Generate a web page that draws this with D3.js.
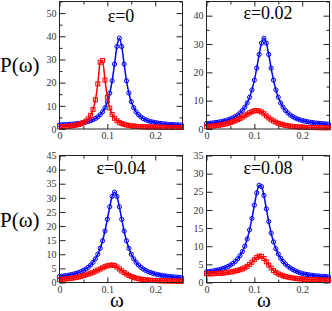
<!DOCTYPE html>
<html lang="en">
<head>
<meta charset="UTF-8">
<title>P(omega) panels</title>
<style>
    body { margin: 0; background: #fff; }
    svg { display: block; }
    .tick line { stroke: #222; stroke-width: 1px; }
    .frame { fill: none; stroke: #222; stroke-width: 1px; }
</style>
</head>
<body>
<div id="chart"></div>
<script src="https://cdnjs.cloudflare.com/ajax/libs/d3/7.8.5/d3.min.js"></script>
<script>
// omega grid shared by every series
var omega = [0,0.005,0.01,0.015,0.02,0.025,0.03,0.035,0.04,0.045,
    0.05,0.055,0.06,0.065,0.07,0.075,0.08,0.085,0.09,0.095,
    0.1,0.105,0.11,0.115,0.12,0.125,0.13,0.135,0.14,0.145,
    0.15,0.155,0.16,0.165,0.17,0.175,0.18,0.185,0.19,0.195,
    0.2,0.205,0.21,0.215,0.22,0.225,0.23,0.235,0.24,0.245,
    0.25,0.255];

var blue0 = [1.78,1.82,1.88,1.94,2.01,2.09,2.19,2.29,2.42,2.57,
    2.76,2.98,3.24,3.58,4.0,4.53,5.23,6.16,7.43,9.2,
    11.76,15.46,20.8,28.0,35.6,39.2,35.6,28.0,20.8,15.5,
    11.8,9.2,7.4,6.2,5.2,4.5,4.0,3.6,3.2,3.0,
    2.8,2.6,2.4,2.3,2.2,2.1,2.0,1.9,1.9,1.8,
    1.8,1.7];
var red0 = [0.95,1.0,1.07,1.14,1.24,1.36,1.51,1.70,1.95,2.28,
    2.74,3.4,4.38,5.9,8.38,12.6,19.5,28.8,29.6,21.1,
    13.7,9.06,6.3,4.63,3.57,2.86,2.36,2.0,1.74,1.54,
    1.38,1.26,1.16,1.08,1.01,0.96,0.91,0.88,0.85,0.82,
    0.8,0.78,0.76,0.74,0.72,0.71,0.7,0.69,0.68,0.67,
    0.66,0.65];

var blue02 = [1.92,2.0,2.09,2.19,2.31,2.44,2.6,2.78,3.0,3.25,
    3.56,3.93,4.38,4.94,5.65,6.55,7.7,9.2,11.2,13.8,
    17.25,21.5,26.3,30.3,32,30.3,26.3,21.5,17.25,13.8,
    11.2,9.2,7.7,6.55,5.65,4.94,4.38,3.93,3.56,3.25,
    3.0,2.78,2.6,2.44,2.31,2.19,2.09,2.0,1.92,1.85,
    1.79,1.73];
var red02 = [0.8,0.9,1.0,1.1,1.2,1.3,1.45,1.6,1.8,2.0,
    2.3,2.6,2.9,3.3,3.7,4.2,4.7,5.2,5.7,6.1,
    6.4,6.5,6.4,6.0,5.4,4.6,3.9,3.3,2.8,2.4,
    2.0,1.75,1.5,1.3,1.15,1.0,0.9,0.8,0.75,0.7,
    0.65,0.6,0.58,0.55,0.53,0.5,0.5,0.48,0.47,0.46,
    0.45,0.45];

var blue04 = [2.13,2.24,2.35,2.48,2.63,2.81,3.01,3.25,3.54,3.88,
    4.29,4.79,5.41,6.18,7.16,8.4,10.0,12.1,14.8,18.25,
    22.4,26.85,30.5,32,30.5,26.85,22.4,18.25,14.8,12.1,
    10.0,8.4,7.16,6.18,5.41,4.79,4.29,3.88,3.54,3.25,
    3.01,2.81,2.63,2.48,2.35,2.24,2.13,2.04,1.96,1.89,
    1.82,1.76];
var red04 = [1.0,1.1,1.2,1.3,1.4,1.5,1.65,1.8,2.0,2.2,
    2.45,2.7,3.0,3.3,3.6,4.0,4.4,4.8,5.2,5.6,
    5.9,6.1,6.2,6.0,5.5,4.8,4.1,3.5,3.0,2.5,
    2.1,1.8,1.55,1.35,1.2,1.05,0.95,0.85,0.8,0.75,
    0.7,0.65,0.62,0.6,0.58,0.56,0.55,0.53,0.52,0.51,
    0.5,0.5];

var blue08 = [2.93,3.01,3.11,3.22,3.35,3.5,3.68,3.89,4.13,4.43,
    4.8,5.24,5.79,6.5,7.39,8.53,10.0,12.0,14.5,17.65,
    21.3,24.7,26.8,26.4,24.0,20.3,16.8,13.6,11.2,9.3,
    7.84,6.69,5.78,5.07,4.47,4.0,3.59,3.25,2.95,2.7,
    2.47,2.32,2.2,2.09,2.0,1.91,1.84,1.77,1.72,1.67,
    1.62,1.58];
var red08 = [2.4,2.4,2.4,2.45,2.5,2.5,2.55,2.6,2.7,2.8,
    2.9,3.0,3.15,3.3,3.5,3.75,4.05,4.45,5.0,5.6,
    6.3,6.9,7.3,7.2,6.6,5.7,4.8,4.0,3.3,2.8,
    2.4,2.1,1.85,1.65,1.5,1.35,1.25,1.15,1.05,1.0,
    0.95,0.9,0.85,0.8,0.78,0.75,0.72,0.7,0.68,0.66,
    0.64,0.62];

var titles = ["ε=0", "ε=0.02", "ε=0.04", "ε=0.08"];
var yMax = [55, 45, 45, 35];
var yTicks = [[0,10,20,30,40,50], [0,10,20,30,40], [0,5,10,15,20,25,30,35,40,45], [0,5,10,15,20,25,30,35]];
var yMinor = [[5,15,25,35,45,55], [5,15,25,35,45], [], []];
var xTicks = [0, 0.1, 0.2];
var xMinor = [0.05, 0.15];

var blueSeries = [blue0, blue02, blue04, blue08];
var redSeries = [red0, red02, red04, red08];

var serif = "'Liberation Serif', 'Times New Roman', Times, serif";
var width = 332, height = 311;
var colX = [59.5, 206.5], rowY = [1.5, 155.5];
var pw = 123, ph = [127.5, 127];

var svg = d3.select("#chart").append("svg")
    .attr("width", width)
    .attr("height", height);

titles.forEach(function(t, i) {
    var c = i % 2, r = Math.floor(i / 2);
    var g = svg.append("g").attr("transform", "translate(" + colX[c] + "," + rowY[r] + ")");
    var h = ph[r];

    var x = d3.scaleLinear().domain([0, 0.257]).range([0, pw]);
    var y = d3.scaleLinear().domain([0, yMax[i]]).range([h, 0]);

    // axes, ticks pointing inward on all four sides
    g.append("g").attr("transform", "translate(0," + h + ")")
        .call(d3.axisBottom(x).tickValues(xTicks).tickSize(-5).tickPadding(3).tickFormat(d3.format("")));
    g.append("g").attr("transform", "translate(0," + h + ")")
        .call(d3.axisBottom(x).tickValues(xMinor).tickSize(-3).tickFormat(""));
    g.append("g")
        .call(d3.axisTop(x).tickValues(xTicks).tickSize(-5).tickFormat(""));
    g.append("g")
        .call(d3.axisTop(x).tickValues(xMinor).tickSize(-3).tickFormat(""));
    g.append("g")
        .call(d3.axisLeft(y).tickValues(yTicks[i]).tickSize(-6).tickPadding(3));
    g.append("g")
        .call(d3.axisLeft(y).tickValues(yMinor[i]).tickSize(-3).tickFormat(""));
    g.append("g").attr("transform", "translate(" + pw + ",0)")
        .call(d3.axisRight(y).tickValues(yTicks[i]).tickSize(-6).tickFormat(""));
    g.append("g").attr("transform", "translate(" + pw + ",0)")
        .call(d3.axisRight(y).tickValues(yMinor[i]).tickSize(-3).tickFormat(""));
    g.selectAll(".domain").remove();
    g.selectAll(".tick text")
        .style("font-family", serif)
        .style("font-size", "10px")
        .style("fill", "#333");

    var line = d3.line()
        .x(function(d, k) { return x(omega[k]); })
        .y(function(d) { return y(d); })
        .curve(d3.curveMonotoneX);

    // blue: circles + line
    g.append("g").selectAll("circle")
        .data(blueSeries[i])
        .enter().append("circle")
        .attr("cx", function(d, k) { return x(omega[k]); })
        .attr("cy", function(d) { return y(d); })
        .attr("r", 2.1)
        .attr("fill", "none")
        .attr("stroke", "#0000ff")
        .attr("stroke-width", 1);
    g.append("path")
        .datum(blueSeries[i])
        .attr("d", line)
        .attr("fill", "none")
        .attr("stroke", "#0000ff")
        .attr("stroke-width", 1.5);

    // red: squares + line
    g.append("g").selectAll("rect")
        .data(redSeries[i])
        .enter().append("rect")
        .attr("x", function(d, k) { return x(omega[k]) - 2; })
        .attr("y", function(d) { return y(d) - 2; })
        .attr("width", 4)
        .attr("height", 4)
        .attr("fill", "none")
        .attr("stroke", "#ff0000")
        .attr("stroke-width", 1);
    g.append("path")
        .datum(redSeries[i])
        .attr("d", line)
        .attr("fill", "none")
        .attr("stroke", "#ff0000")
        .attr("stroke-width", 1.5);

    g.append("rect").attr("class", "frame")
        .attr("width", pw).attr("height", h);

    g.append("text")
        .attr("x", pw / 2)
        .attr("y", i == 0 ? 20.5 : (r == 0 ? 17 : 18))
        .attr("text-anchor", "middle")
        .style("font-family", serif)
        .style("font-size", "18px")
        .text(t);
});

// shared axis labels
[72, 227].forEach(function(yy) {
    svg.append("text")
        .attr("x", 0).attr("y", yy)
        .style("font-family", serif)
        .style("font-size", "21px")
        .text("P(ω)");
});
[colX[0] + pw / 2 - 4, colX[1] + pw / 2 - 4].forEach(function(xx) {
    svg.append("text")
        .attr("x", xx).attr("y", 307)
        .attr("text-anchor", "middle")
        .style("font-family", serif)
        .style("font-size", "21px")
        .text("ω");
});
</script>
</body>
</html>
